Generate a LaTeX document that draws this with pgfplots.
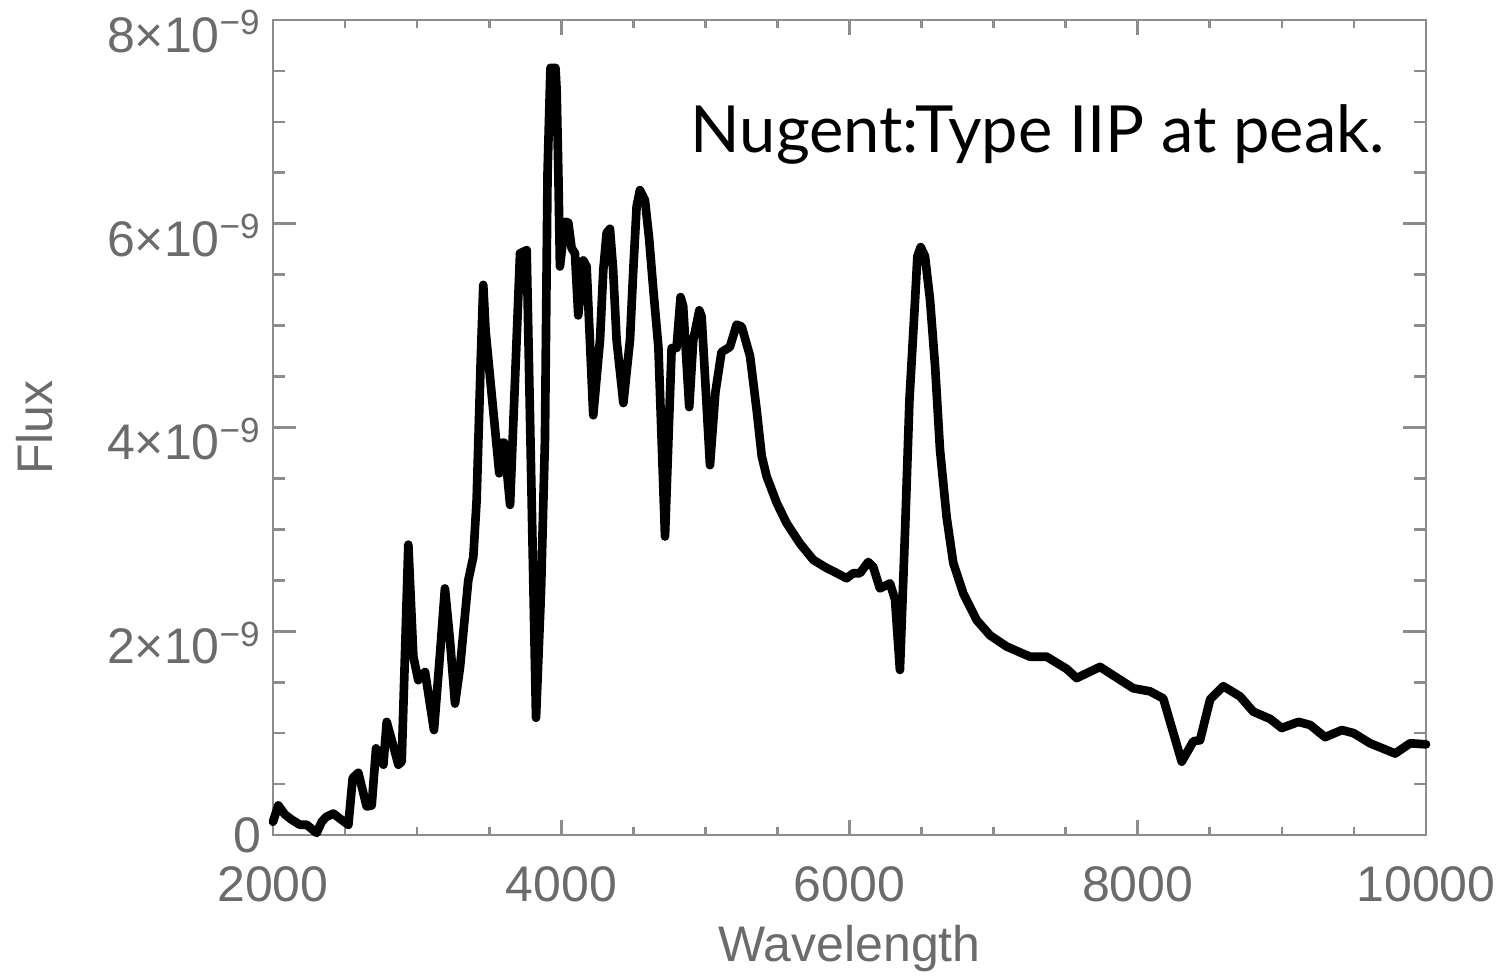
\documentclass[border=0pt]{standalone}
\usepackage{fontspec}
\setmainfont{Liberation Sans}
\newfontfamily\titlefont{Lato}
\usepackage{pgfplots}
\pgfplotsset{compat=1.18}
\definecolor{axgray}{gray}{0.55}
\definecolor{labgray}{gray}{0.42}
\pgfplotstableread{
x y
2000 0.13
2037 0.29
2083 0.20
2130 0.15
2187 0.10
2234 0.10
2303 0.02
2338 0.13
2372 0.18
2419 0.21
2465 0.16
2523 0.10
2553 0.56
2592 0.61
2650 0.28
2685 0.29
2715 0.85
2766 0.69
2789 1.11
2824 0.93
2870 0.69
2893 0.72
2939 2.85
2974 1.75
3008 1.52
3055 1.60
3117 1.03
3159 1.78
3193 2.42
3228 1.91
3263 1.29
3298 1.65
3355 2.50
3390 2.73
3413 3.29
3440 4.60
3459 5.40
3475 4.95
3570 3.55
3590 3.85
3605 3.85
3645 3.24
3714 5.71
3760 5.74
3825 1.15
3860 2.40
3887 3.88
3905 6.50
3925 7.53
3960 7.53
3968 7.31
3980 6.49
3991 5.58
4026 6.02
4049 6.01
4072 5.76
4095 5.71
4118 5.10
4153 5.64
4176 5.58
4222 4.12
4269 4.86
4292 5.55
4315 5.91
4338 5.95
4360 5.55
4384 4.86
4431 4.24
4477 4.86
4500 5.55
4523 6.17
4546 6.33
4581 6.23
4610 5.85
4639 5.35
4674 4.79
4720 2.93
4766 4.78
4800 4.78
4828 5.28
4846 5.19
4888 4.20
4916 4.86
4958 5.15
4974 5.09
5032 3.63
5070 4.35
5112 4.74
5170 4.79
5217 5.01
5252 4.99
5310 4.70
5356 4.17
5391 3.72
5425 3.52
5495 3.26
5564 3.06
5657 2.86
5749 2.70
5842 2.62
5899 2.58
5980 2.52
6026 2.57
6073 2.57
6130 2.68
6165 2.63
6211 2.42
6281 2.47
6316 2.31
6350 1.62
6385 2.96
6416 4.27
6455 5.25
6471 5.68
6494 5.77
6524 5.68
6559 5.25
6594 4.60
6628 3.78
6674 3.12
6720 2.67
6790 2.37
6882 2.11
6975 1.96
7090 1.85
7252 1.75
7368 1.75
7507 1.63
7576 1.54
7738 1.65
7969 1.44
8085 1.41
8177 1.34
8305 0.72
8386 0.92
8432 0.93
8502 1.33
8594 1.46
8710 1.36
8802 1.21
8918 1.14
8999 1.05
9115 1.11
9196 1.08
9300 0.96
9416 1.03
9497 1.00
9612 0.90
9786 0.80
9890 0.90
10000 0.89
}\spectrum
\begin{document}
\begin{tikzpicture}
\useasboundingbox (-81.9pt,-42.6pt) rectangle (368.4pt,250.5pt);
\begin{axis}[
  scale only axis, width=345.9pt, height=244.5pt,
  at={(0pt,0pt)}, anchor=south west,
  xmin=2000, xmax=10000, ymin=0, ymax=8,
  scaled x ticks=false, scaled y ticks=false,
  xtick={2000,4000,6000,8000,10000},
  xticklabels={2000,4000,6000,8000,10000},
  ytick={0,2,4,6,8},
  yticklabels={\raisebox{6.8pt}{0},2×10\textsuperscript{−9},4×10\textsuperscript{−9},6×10\textsuperscript{−9},8×10\textsuperscript{−9}},
  minor x tick num=3, minor y tick num=3,
  tick align=inside,
  axis line style={axgray, line width=0.8pt},
  every tick/.style={axgray, line width=0.8pt},
  xtick style={/pgfplots/major tick length=4.6pt,/pgfplots/minor tick length=2.4pt},
  ytick style={/pgfplots/major tick length=7pt,/pgfplots/minor tick length=3.5pt},
  ticklabel style={font=\fontsize{15}{18}\selectfont, text=labgray},
  xticklabel style={yshift=-6pt},
  yticklabel style={yshift=-3.5pt},
  xlabel={Wavelength}, ylabel={Flux},
  label style={font=\fontsize{15}{18}\selectfont, text=labgray},
  xlabel style={at={(axis description cs:0.5,-0.139)}, anchor=center},
  ylabel style={at={(axis description cs:-0.2067,0.5)}, anchor=center},
  clip=false,
]
\addplot[black, line width=2.6pt, line join=round, line cap=round] table[x=x,y=y] {\spectrum};
\node[anchor=base west, inner sep=0pt, font=\titlefont\fontsize{19.5}{23}\selectfont] at (axis cs:4893,6.70) {Nugent:Type IIP at peak.};
\end{axis}
\end{tikzpicture}
\end{document}
